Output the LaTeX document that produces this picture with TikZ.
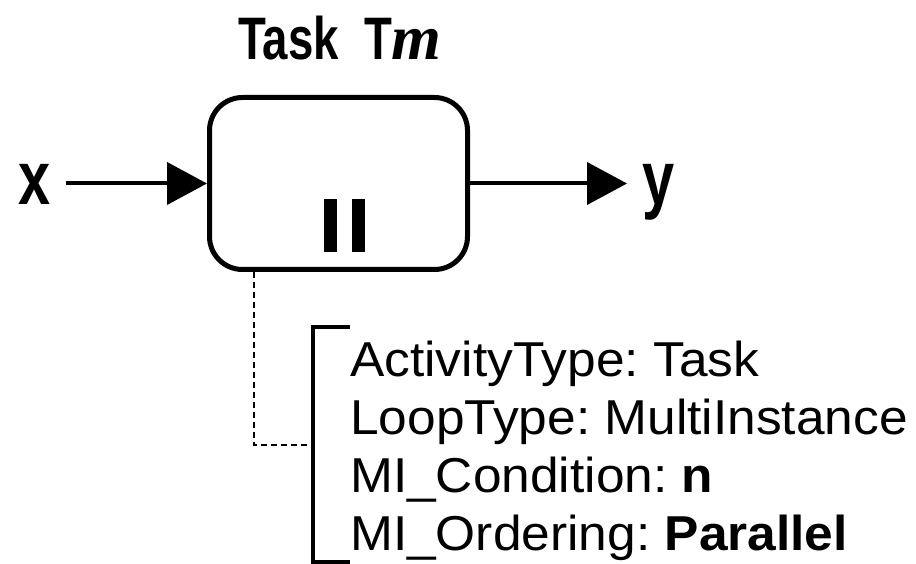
\documentclass[tikz,border=0pt]{standalone}
\usepackage{fontspec}
\setmainfont[FakeStretch=1.05]{Liberation Sans}
\newfontfamily\condsans[FakeStretch=0.76]{Liberation Sans}
\newfontfamily\timesit{Liberation Serif}
\usetikzlibrary{arrows.meta,positioning}
\frenchspacing
\tikzset{
	taskbox/.style={draw,rounded corners=33pt,line width=5pt,minimum width=258pt,minimum height=172pt,inner sep=0pt},
	heading/.style={font=\condsans\bfseries\fontsize{60}{60}\selectfont,inner sep=0pt},
	io/.style={font=\condsans\bfseries\fontsize{76}{76}\selectfont,inner sep=0pt},
	arr/.style={-{Triangle[length=40pt,width=42pt]},line width=4pt},
	attr/.style={align=left,font=\fontsize{49}{58}\selectfont,inner sep=0pt},
	link/.style={dash pattern=on 6pt off 4pt,line width=1.8pt},
	brk/.style={line width=4pt}
}

\begin{document}
\begin{tikzpicture}[x=1pt,y=-1pt]
	\useasboundingbox (0,0) rectangle (916,564);
	\node[taskbox] (task) at (338.5,183.5) {};
	\node[heading,anchor=base] (ttl) at (340,60) {Task~~T{\timesit\itshape\bfseries\fontsize{64}{64}\selectfont m}};
	\node[io,anchor=base] (xin) at (35,205) {x};
	\node[io,anchor=base west] (yout) at (642,205) {y};
	% parallel marker
	\fill ([shift={(-14.5,15.5)}]task.center) rectangle ++(13,53);
	\fill ([shift={(13.5,15.5)}]task.center) rectangle ++(13,53);
	\draw[arr] ([xshift=15pt]xin.east |- task.west) -- (task.west);
	\draw[arr] (task.east) -- ([xshift=-15pt]task.east -| yout.west);
	% attributes
	\node[attr,anchor=north west] (info) at (350,341) {ActivityType: Task\\LoopType: MultiInstance\\MI\_Condition: \textbf{n}\\MI\_Ordering: \textbf{Parallel}};
	\coordinate (btop) at (313,327);
	\coordinate (bbot) at (313,562);
	\draw[brk] (info.west |- btop) -- (btop) -- (bbot) -- (info.west |- bbot);
	\draw[link] ([xshift=-84.5pt]task.south) |- ([xshift=-6pt]btop |- 0,445);
\end{tikzpicture}
\end{document}
